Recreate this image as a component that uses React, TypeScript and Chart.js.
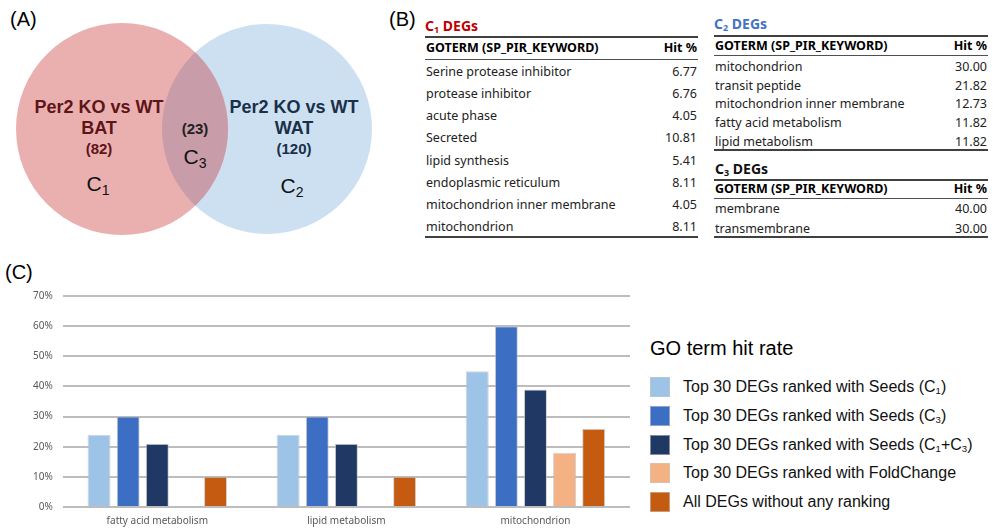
import React, { useEffect, useRef } from "react";
import { Chart, registerables } from "chart.js";

Chart.register(...registerables);

// ---- Data ----
const categories = ["fatty acid metabolism", "lipid metabolism", "mitochondrion"];
const seriesNames = [
  "Top 30 DEGs ranked with Seeds (C1)",
  "Top 30 DEGs ranked with Seeds (C3)",
  "Top 30 DEGs ranked with Seeds (C1+C3)",
  "Top 30 DEGs ranked with FoldChange",
  "All DEGs without any ranking",
];
const seedsC1 = [24, 24, 45];
const seedsC3 = [30, 30, 60];
const seedsC1C3 = [21, 21, 39];
const foldChange = [0, 0, 18];
const allDEGs = [10, 10, 26];
const seriesColors = ["#9DC3E6", "#3C6EC4", "#203864", "#F4B183", "#C55A11"];
const yTicks = [0, 10, 20, 30, 40, 50, 60, 70];

const c1Terms = [
  "Serine protease inhibitor",
  "protease inhibitor",
  "acute phase",
  "Secreted",
  "lipid synthesis",
  "endoplasmic reticulum",
  "mitochondrion inner membrane",
  "mitochondrion",
];
const c1Hits = ["6.77", "6.76", "4.05", "10.81", "5.41", "8.11", "4.05", "8.11"];
const c2Terms = [
  "mitochondrion",
  "transit peptide",
  "mitochondrion inner membrane",
  "fatty acid metabolism",
  "lipid metabolism",
];
const c2Hits = ["30.00", "21.82", "12.73", "11.82", "11.82"];
const c3Terms = ["membrane", "transmembrane"];
const c3Hits = ["40.00", "30.00"];

const TFONT = "'Noto Sans', 'Open Sans', sans-serif";
const AFONT = "'Liberation Sans', Arial, sans-serif";

function Txt(props: {
  x: number;
  y: number;
  children: React.ReactNode;
  size?: number;
  bold?: boolean;
  color?: string;
  align?: "left" | "right" | "center";
  w?: number;
  font?: string;
}) {
  const { x, y, size = 12, bold, color = "#000", align = "left", w, font = TFONT } = props;
  const style: React.CSSProperties = {
    position: "absolute",
    top: y - 12,
    height: 24,
    lineHeight: "24px",
    fontSize: size,
    fontWeight: bold ? 700 : 400,
    color,
    fontFamily: font,
    whiteSpace: "nowrap",
  };
  if (align === "left") style.left = x;
  else if (align === "right") style.right = 996 - x;
  else {
    style.left = x - (w || 300) / 2;
    style.width = w || 300;
    style.textAlign = "center";
  }
  return <div style={style}>{props.children}</div>;
}

function HLine(props: { x: number; y: number; w: number; t?: number; c?: string }) {
  const { x, y, w, t = 1.5, c = "#3a3a3a" } = props;
  return (
    <div
      style={{ position: "absolute", left: x, top: y - t / 2, width: w, height: t, background: c }}
    />
  );
}

function GoTable(props: {
  x: number;
  w: number;
  topLine: number;
  headerY: number;
  headerLine: number;
  rowYs: number[];
  bottomLine: number;
  terms: string[];
  hits: string[];
}) {
  const { x, w, topLine, headerY, headerLine, rowYs, bottomLine, terms, hits } = props;
  return (
    <>
      <HLine x={x} y={topLine} w={w} t={2} c="#404040" />
      <Txt x={x + 1} y={headerY} bold size={12.5}>
        GOTERM (SP_PIR_KEYWORD)
      </Txt>
      <Txt x={x + w - 1} y={headerY} bold size={12.5} align="right">
        Hit %
      </Txt>
      <HLine x={x} y={headerLine} w={w} t={1} c="#505050" />
      {terms.map((t, i) => (
        <React.Fragment key={i}>
          <Txt x={x + 1} y={rowYs[i]} size={12.5} color="#222">
            {t}
          </Txt>
          <Txt x={x + w - 1} y={rowYs[i]} size={12.5} align="right" color="#222">
            {hits[i]}
          </Txt>
        </React.Fragment>
      ))}
      <HLine x={x} y={bottomLine} w={w} t={2} c="#404040" />
    </>
  );
}

function BarChart() {
  const ref = useRef<HTMLCanvasElement | null>(null);
  useEffect(() => {
    if (!ref.current) return;
    const data = [seedsC1, seedsC3, seedsC1C3, foldChange, allDEGs];
    const chart = new Chart(ref.current, {
      type: "bar",
      data: {
        labels: categories,
        datasets: data.map((d, i) => ({
          label: seriesNames[i],
          data: d,
          backgroundColor: seriesColors[i],
          borderColor: "rgba(190,190,190,0.7)",
          borderWidth: 1,
          barPercentage: 0.79,
          categoryPercentage: 0.77,
        })),
      },
      options: {
        animation: false,
        responsive: false,
        devicePixelRatio: 1,
        layout: { padding: { left: 23, top: 14, right: 10, bottom: 0 } },
        plugins: { legend: { display: false }, tooltip: { enabled: false } },
        scales: {
          x: {
            grid: { display: false, drawTicks: false, tickLength: 0 },
            border: { display: false },
            ticks: {
              color: "#595959",
              font: { size: 10, family: TFONT },
              padding: 8,
            },
          },
          y: {
            min: 0,
            max: 70,
            afterBuildTicks: (axis: any) => {
              axis.ticks = yTicks.map((v) => ({ value: v }));
            },
            grid: { color: "#bdbdbd", lineWidth: 2, drawTicks: false },
            border: { display: false },
            ticks: {
              color: "#595959",
              font: { size: 10, family: TFONT },
              padding: 10,
              callback: (v: any) => v + "%",
            },
          },
        },
      },
    });
    return () => chart.destroy();
  }, []);
  return (
    <canvas
      ref={ref}
      width={640}
      height={255}
      style={{ position: "absolute", left: 0, top: 280, width: 640, height: 255 }}
    />
  );
}

function Sub(props: { children: React.ReactNode; size?: number }) {
  return (
    <span style={{ fontSize: props.size || "0.6em", verticalAlign: "-0.25em", lineHeight: 0 }}>
      {props.children}
    </span>
  );
}

function Venn() {
  return (
    <svg
      width={400}
      height={250}
      style={{ position: "absolute", left: 0, top: 0 }}
    >
      <defs>
        <clipPath id="rightClip">
          <circle cx={267} cy={129} r={105} />
        </clipPath>
      </defs>
      <circle cx={267} cy={129} r={105} fill="#CCE0F1" />
      <circle cx={122} cy={129} r={106} fill="#EAB0B0" />
      <circle cx={122} cy={129} r={106} fill="#C89CA8" clipPath="url(#rightClip)" />
    </svg>
  );
}

function Legend() {
  const rows = [387, 416, 445, 473, 502];
  const labels: React.ReactNode[] = [
    <>Top 30 DEGs ranked with Seeds (C<Sub>1</Sub>)</>,
    <>Top 30 DEGs ranked with Seeds (C<Sub>3</Sub>)</>,
    <>Top 30 DEGs ranked with Seeds (C<Sub>1</Sub>+C<Sub>3</Sub>)</>,
    <>{seriesNames[3]}</>,
    <>{seriesNames[4]}</>,
  ];
  return (
    <>
      <Txt x={650} y={348} size={20} font={AFONT}>
        GO term hit rate
      </Txt>
      {rows.map((y, i) => (
        <React.Fragment key={i}>
          <div
            style={{
              position: "absolute",
              left: 650,
              top: y - 10,
              width: 20,
              height: 20,
              background: seriesColors[i],
              boxSizing: "border-box",
              border: "1px solid rgba(200,200,200,0.6)",
            }}
          />
          <Txt x={683} y={y} size={16} font={AFONT} color="#111">
            {labels[i]}
          </Txt>
        </React.Fragment>
      ))}
    </>
  );
}

export default function App() {
  const c1Rows = [71.7, 94, 116, 138, 160.5, 182.6, 204.7, 226.7];
  const c2Rows = [66.7, 85.7, 104.3, 123.3, 142.3];
  const c3Rows = [209.3, 228.7];
  return (
    <div
      style={{
        position: "absolute",
        left: 0,
        top: 0,
        width: 996,
        height: 531,
        background: "#fff",
        overflow: "hidden",
      }}
    >
      <Venn />
      {/* Panel labels */}
      <Txt x={10} y={19} size={20} font={AFONT}>(A)</Txt>
      <Txt x={389} y={19} size={20} font={AFONT}>(B)</Txt>
      <Txt x={5} y={272} size={20} font={AFONT}>(C)</Txt>

      {/* Venn texts */}
      <Txt x={99} y={107} size={18} bold color="#5E1518" align="center" font={AFONT}>
        Per2 KO vs WT
      </Txt>
      <Txt x={99} y={128} size={18} bold color="#5E1518" align="center" font={AFONT}>
        BAT
      </Txt>
      <Txt x={99} y={149} size={15} bold color="#5E1518" align="center" font={AFONT}>
        (82)
      </Txt>
      <Txt x={98} y={184} size={21} align="center" font={AFONT} color="#111">
        C<Sub size={14}>1</Sub>
      </Txt>
      <Txt x={294} y={107} size={18} bold color="#1A2F48" align="center" font={AFONT}>
        Per2 KO vs WT
      </Txt>
      <Txt x={294} y={128} size={18} bold color="#1A2F48" align="center" font={AFONT}>
        WAT
      </Txt>
      <Txt x={294} y={149} size={15} bold color="#1A2F48" align="center" font={AFONT}>
        (120)
      </Txt>
      <Txt x={292} y={186} size={21} align="center" font={AFONT} color="#111">
        C<Sub size={14}>2</Sub>
      </Txt>
      <Txt x={195} y={129} size={15} bold color="#222" align="center" font={AFONT}>
        (23)
      </Txt>
      <Txt x={195} y={157} size={21} align="center" font={AFONT} color="#111">
        C<Sub size={14}>3</Sub>
      </Txt>

      {/* Panel B tables */}
      <Txt x={425} y={26} size={14} bold color="#C00000" font={TFONT}>
        C<Sub size={9}>1</Sub> DEGs
      </Txt>
      <GoTable
        x={425}
        w={273}
        topLine={36.7}
        headerY={48.3}
        headerLine={59.3}
        rowYs={c1Rows}
        bottomLine={237}
        terms={c1Terms}
        hits={c1Hits}
      />
      <Txt x={714} y={24} size={14} bold color="#4472C4" font={TFONT}>
        C<Sub size={9}>2</Sub> DEGs
      </Txt>
      <GoTable
        x={714}
        w={274}
        topLine={35.7}
        headerY={46}
        headerLine={55}
        rowYs={c2Rows}
        bottomLine={150}
        terms={c2Terms}
        hits={c2Hits}
      />
      <Txt x={715} y={169} size={14} bold color="#111" font={TFONT}>
        C<Sub size={9}>3</Sub> DEGs
      </Txt>
      <GoTable
        x={714}
        w={274}
        topLine={180}
        headerY={189.3}
        headerLine={198.5}
        rowYs={c3Rows}
        bottomLine={237}
        terms={c3Terms}
        hits={c3Hits}
      />

      <BarChart />
      <Legend />
    </div>
  );
}
